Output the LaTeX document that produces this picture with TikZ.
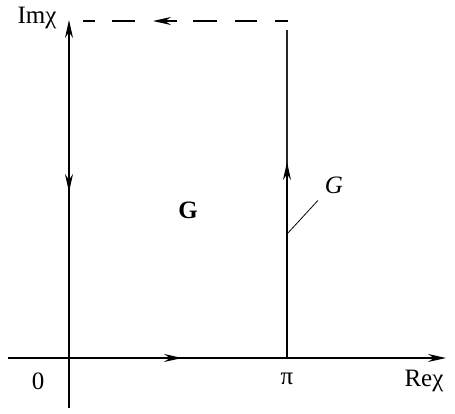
\documentclass[tikz,border=0pt]{standalone}
\usepackage{amsmath}
\usepackage{fontspec}
\setmainfont{Liberation Serif}
\usetikzlibrary{positioning, arrows.meta, calc}

\begin{document}
\begin{tikzpicture}[
    x=0.5pt, y=-0.5pt,
    every node/.style={font=\fontsize{12.5}{15}\selectfont},
    axis/.style={-{Stealth[length=9pt, width=4pt]}, semithick, draw=black},
    edge/.style={thick, draw=black!85},
    mid/.style={-{Stealth[length=9pt, width=4pt]}},
    contour/.style={semithick, draw=black},
    leader/.style={thin, draw=black}
]
\useasboundingbox (0,0) rectangle (455,413);

% Points
\coordinate (O) at (69,358);
\coordinate (Pi) at (287,358);
\coordinate (xend) at (8,358);
\coordinate (xtip) at (446,358);
\coordinate (ybot) at (69,408);
\coordinate (ytip) at (69,20);
\coordinate (top) at (287,30);

% Axes
\draw[axis] (xend) -- (xtip);
\draw[axis] (ybot) -- (ytip);
\draw[mid, semithick] (O) -- (182,358);
\draw[mid, semithick] (69,120) -- (69,192);

% Line Re = pi
\draw[edge] (Pi) -- (top);
\draw[mid, thick] (Pi) -- (287,162);

% Dashed return
\foreach \a/\b in {83/95, 112/135, 193/217, 235/257, 275/288}
    \draw[contour] (\a,21) -- (\b,21);
\draw[contour, mid] (177,21) -- (153,21);

% Labels
\node (im) at (37,18) {Imχ};
\node (re) at (424,381) {Reχ};
\node (zero) at (38,381) {0};
\node (pi) at (287,379) {π};
\node (reg) at (188,210) {\textbf{G}};
\node (bd) at (334,185) {\textit{G}};
\coordinate (foot) at (287,234);
\draw[leader] (foot) -- (bd.south west);

\end{tikzpicture}
\end{document}
